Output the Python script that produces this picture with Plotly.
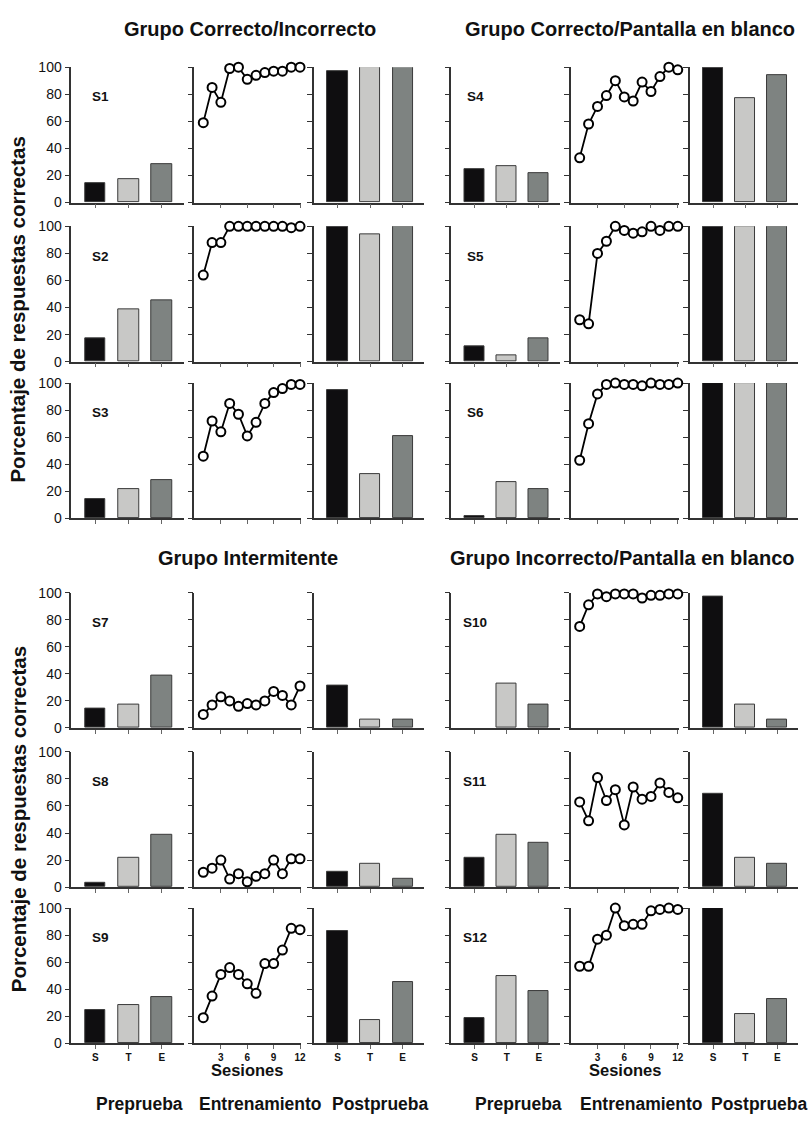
import plotly.graph_objects as go

# ---------------- data ----------------
categories = ["S", "T", "E"]
sessions = list(range(1, 13))
session_ticks = [3, 6, 9, 12]
y_ticks = [0, 20, 40, 60, 80, 100]

S1_pre = [14, 17, 28]
S1_train = [59, 85, 74, 99, 100, 91, 94, 96, 97, 97, 100, 100]
S1_post = [97, 100, 100]

S2_pre = [17, 39, 45]
S2_train = [64, 88, 88, 100, 100, 100, 100, 100, 100, 100, 99, 100]
S2_post = [100, 94, 100]

S3_pre = [14, 22, 28]
S3_train = [46, 72, 64, 85, 77, 61, 71, 85, 93, 96, 99, 99]
S3_post = [95, 33, 61]

S4_pre = [25, 27, 22]
S4_train = [33, 58, 71, 79, 90, 78, 75, 89, 82, 93, 100, 98]
S4_post = [100, 77, 94]

S5_pre = [11, 5, 17]
S5_train = [31, 28, 80, 89, 100, 97, 95, 96, 100, 97, 100, 100]
S5_post = [100, 100, 100]

S6_pre = [2, 27, 22]
S6_train = [43, 70, 92, 99, 100, 99, 99, 98, 100, 99, 99, 100]
S6_post = [100, 100, 100]

S7_pre = [14, 17, 39]
S7_train = [10, 17, 23, 20, 16, 18, 17, 20, 27, 24, 17, 31]
S7_post = [31, 6, 6]

S8_pre = [3, 22, 39]
S8_train = [11, 14, 20, 6, 10, 4, 8, 10, 20, 10, 21, 21]
S8_post = [11, 17, 6]

S9_pre = [25, 28, 34]
S9_train = [19, 35, 51, 56, 51, 44, 37, 59, 59, 69, 85, 84]
S9_post = [83, 17, 45]

S10_pre = [0, 33, 17]
S10_train = [75, 91, 99, 97, 99, 99, 99, 96, 98, 98, 99, 99]
S10_post = [97, 17, 6]

S11_pre = [22, 39, 33]
S11_train = [63, 49, 81, 64, 72, 46, 74, 65, 67, 77, 70, 66]
S11_post = [69, 22, 17]

S12_pre = [19, 50, 39]
S12_train = [57, 57, 77, 80, 100, 87, 88, 88, 98, 99, 100, 99]
S12_post = [100, 22, 33]

bar_colors = ["#0f0e10", "#c8c8c6", "#7e8381"]

# subject placement: (label, pre, train, post, row, group)
subjects = [
    ("S1", S1_pre, S1_train, S1_post, 0, 0),
    ("S2", S2_pre, S2_train, S2_post, 1, 0),
    ("S3", S3_pre, S3_train, S3_post, 2, 0),
    ("S4", S4_pre, S4_train, S4_post, 0, 1),
    ("S5", S5_pre, S5_train, S5_post, 1, 1),
    ("S6", S6_pre, S6_train, S6_post, 2, 1),
    ("S7", S7_pre, S7_train, S7_post, 3, 0),
    ("S8", S8_pre, S8_train, S8_post, 4, 0),
    ("S9", S9_pre, S9_train, S9_post, 5, 0),
    ("S10", S10_pre, S10_train, S10_post, 3, 1),
    ("S11", S11_pre, S11_train, S11_post, 4, 1),
    ("S12", S12_pre, S12_train, S12_post, 5, 1),
]

# ---------------- layout geometry (pixels) ----------------
W, H = 811, 1129
row_tops = [60, 221.5, 380.5, 593, 754.5, 913]
row_h = 137.3
col_lefts = [71.7, 195.7, 316, 454.3, 574.3, 694.3]
col_w = [113, 107.5, 110.5, 109, 109, 109]

FONT = "Liberation Sans, Arial, sans-serif"
AX = "#333333"


def xd(c):
    return [col_lefts[c] / W, (col_lefts[c] + col_w[c]) / W]


def yd(r):
    return [1 - (row_tops[r] + row_h) / H, 1 - row_tops[r] / H]


fig = go.Figure()
layout = {}
annotations = []
idx = 0

for label, pre, train, post, r, g in subjects:
    for k in range(3):
        idx += 1
        c = g * 3 + k
        xname = "x" if idx == 1 else f"x{idx}"
        yname = "y" if idx == 1 else f"y{idx}"
        xkey = "xaxis" if idx == 1 else f"xaxis{idx}"
        ykey = "yaxis" if idx == 1 else f"yaxis{idx}"
        bottom = r == 5
        if k == 1:
            fig.add_trace(go.Scatter(
                x=sessions, y=train, mode="lines+markers",
                line=dict(color="black", width=1.8),
                marker=dict(symbol="circle", size=9, color="white",
                            line=dict(color="black", width=2)),
                cliponaxis=False, showlegend=False,
                xaxis=xname, yaxis=yname))
            xa = dict(range=[0, 12.15], tickvals=session_ticks,
                      ticktext=[f"<b>{v}</b>" for v in session_ticks])
        else:
            vals = pre if k == 0 else post
            fig.add_trace(go.Bar(
                x=[0, 1, 2], y=vals, width=0.62,
                marker=dict(color=bar_colors,
                            line=dict(color="#3a3a3a",
                                      width=[0 if v == 0 else 1 for v in vals])),
                cliponaxis=False,
                showlegend=False, xaxis=xname, yaxis=yname))
            xa = dict(range=[-0.72, 2.65], tickvals=[0, 1, 2],
                      ticktext=[f"<b>{s}</b>" for s in categories])
        xa.update(domain=xd(c), anchor=yname, showline=True, linecolor=AX,
                  linewidth=1.5, ticks="outside", ticklen=4, tickcolor="#666",
                  tickwidth=1, showgrid=False, zeroline=False,
                  showticklabels=bottom,
                  tickfont=dict(family=FONT, size=10, color="#111"))
        ya = dict(domain=yd(r), anchor=xname, range=[0, 100], tickvals=y_ticks,
                  showline=True, linecolor=AX, linewidth=1.5, ticks="outside",
                  ticklen=5, tickcolor=AX, tickwidth=1, showgrid=False,
                  zeroline=False, showticklabels=(c == 0),
                  tickfont=dict(family=FONT, size=14, color="#111"))
        layout[xkey] = xa
        layout[ykey] = ya
        if k == 0:
            annotations.append(dict(
                x=0.15 if g == 0 else 0.02, y=78, xref=xname, yref=yname,
                text=f"<b>{label}</b>", showarrow=False, xanchor="center",
                font=dict(family=FONT, size=13.5, color="#111")))


def ann(text, x, y, size, angle=0):
    annotations.append(dict(
        x=x / W, y=1 - y / H, xref="paper", yref="paper", text=f"<b>{text}</b>",
        showarrow=False, xanchor="center", yanchor="middle", textangle=angle,
        font=dict(family=FONT, size=size, color="#111")))


ann("Grupo Correcto/Incorrecto", 252, 21, 20)
ann("Grupo Correcto/Pantalla en blanco", 634, 21, 20)
ann("Grupo Intermitente", 250, 558, 20)
ann("Grupo Incorrecto/Pantalla en blanco", 626, 558, 20)
ann("Porcentaje de respuestas correctas", 18, 306, 20.5, -90)
ann("Porcentaje de respuestas correctas", 18, 823, 20.5, -90)
ann("Sesiones", 249, 1077, 16.5)
ann("Sesiones", 629, 1077, 16.5)
for txt, x in [("Preprueba", 140), ("Entrenamiento", 262), ("Postprueba", 383),
               ("Preprueba", 522), ("Entrenamiento", 645), ("Postprueba", 764)]:
    ann(txt, x, 1112, 17.5)

fig.update_layout(
    width=W, height=H, margin=dict(l=0, r=0, t=0, b=0),
    paper_bgcolor="white", plot_bgcolor="white",
    bargap=0, annotations=annotations, showlegend=False,
    font=dict(family=FONT, color="#111"),
    **layout)

fig.write_html(
    "out.html",
    config={"displayModeBar": False},
    post_script="document.body.style.margin='0';document.body.style.overflow='hidden';",
)
